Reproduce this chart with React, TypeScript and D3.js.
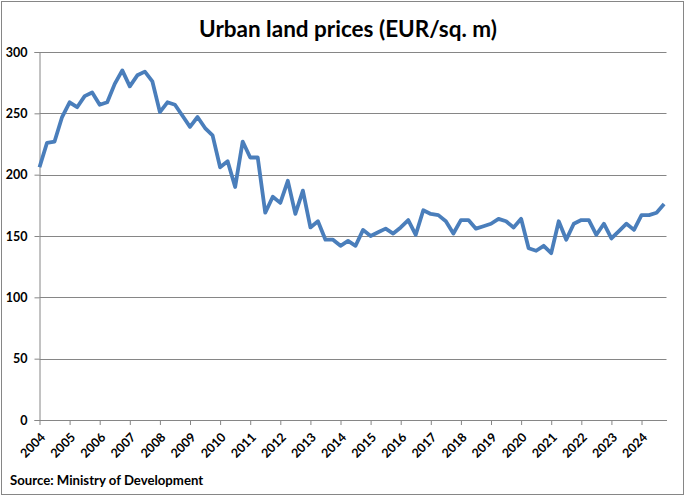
import { useEffect, useRef } from 'react'
import * as d3 from 'd3'

// quarterly values, 2004 Q1 .. 2024 Q4
const years = d3.range(2004, 2025)
const prices = [
  206, 226, 227, 247,
  259, 255, 264, 267,
  257, 259, 274, 285,
  272, 281, 284, 276,
  251, 259, 257, 248,
  239, 247, 238, 232,
  206, 211, 190, 227,
  214, 214, 169, 182,
  177, 195, 168, 187,
  157, 162, 147, 147,
  142, 146, 142, 155,
  150, 153, 156, 152,
  157, 163, 151, 171,
  168, 167, 162, 152,
  163, 163, 156, 158,
  160, 164, 162, 157,
  164, 140, 138, 142,
  136, 162, 147, 160,
  163, 163, 151, 160,
  148, 154, 160, 155,
  167, 167, 169, 176,
]
const yTicks = [0, 50, 100, 150, 200, 250, 300]

const W = 685
const H = 496
const FONT = 'Lato, "Open Sans", sans-serif'

export default function App() {
  const svgRef = useRef<SVGSVGElement>(null)

  useEffect(() => {
    if (!svgRef.current) return
    const svg = d3.select(svgRef.current)
    svg.selectAll('*').remove()

    const left = 39.5, right = 666.5, top = 52, bottom = 420
    const x = d3.scaleLinear().domain([2004, 2024.83]).range([left, right])
    const y = d3.scaleLinear().domain([0, 300]).range([bottom, top])

    svg.append('rect')
      .attr('x', 1.5).attr('y', 1.5).attr('width', W - 3).attr('height', H - 3)
      .attr('fill', '#fff').attr('stroke', '#868686').attr('stroke-width', 1)

    svg.append('text')
      .attr('x', 348).attr('y', 37)
      .attr('text-anchor', 'middle')
      .attr('font-family', FONT).attr('font-weight', 700).attr('font-size', 22.5)
      .text('Urban land prices (EUR/sq. m)')

    // gridlines
    svg.append('g').selectAll('line')
      .data(yTicks.filter(d => d > 0))
      .join('line')
      .attr('x1', left).attr('x2', right)
      .attr('y1', d => Math.round(y(d)) + 0.5).attr('y2', d => Math.round(y(d)) + 0.5)
      .attr('stroke', '#868686')

    const yAxis = svg.append('g')
      .attr('transform', `translate(${left},0)`)
      .call(d3.axisLeft(y).tickValues(yTicks).tickSize(5).tickPadding(7))
    yAxis.select('.domain').attr('stroke', '#868686')
    yAxis.selectAll('.tick line').attr('stroke', '#868686')
    yAxis.selectAll('.tick text')
      .attr('font-family', FONT).attr('font-weight', 700).attr('font-size', 12.5).attr('fill', '#000')

    const xAxis = svg.append('g')
      .attr('transform', `translate(0,${bottom})`)
      .call(d3.axisBottom(x).tickValues(years).tickFormat(d3.format('d')).tickSize(5).tickSizeOuter(0))
    xAxis.select('.domain').attr('stroke', '#868686')
    xAxis.selectAll('.tick line').attr('stroke', '#868686')
    xAxis.selectAll('.tick text')
      .attr('font-family', FONT).attr('font-weight', 700).attr('font-size', 12.5).attr('fill', '#000')
      .attr('text-anchor', 'end')
      .attr('y', 0)
      .attr('dy', '0.35em')
      .attr('transform', 'translate(3,15) rotate(-45)')

    const pts = prices.map((v, i) => [2004 + i / 4, v] as [number, number])
    const line = d3.line<[number, number]>().x(d => x(d[0])).y(d => y(d[1]))
    svg.append('path')
      .attr('d', line(pts)!)
      .attr('fill', 'none')
      .attr('stroke', '#4A7EBB')
      .attr('stroke-width', 3.8)
      .attr('stroke-linejoin', 'round')

    svg.append('text')
      .attr('x', 10).attr('y', 485)
      .attr('font-family', FONT).attr('font-weight', 700).attr('font-size', 13.2)
      .text('Source: Ministry of Development')
  }, [])

  return (
    <svg ref={svgRef} width={W} height={H}
      style={{ position: 'absolute', left: 0, top: 0, display: 'block' }} />
  )
}
